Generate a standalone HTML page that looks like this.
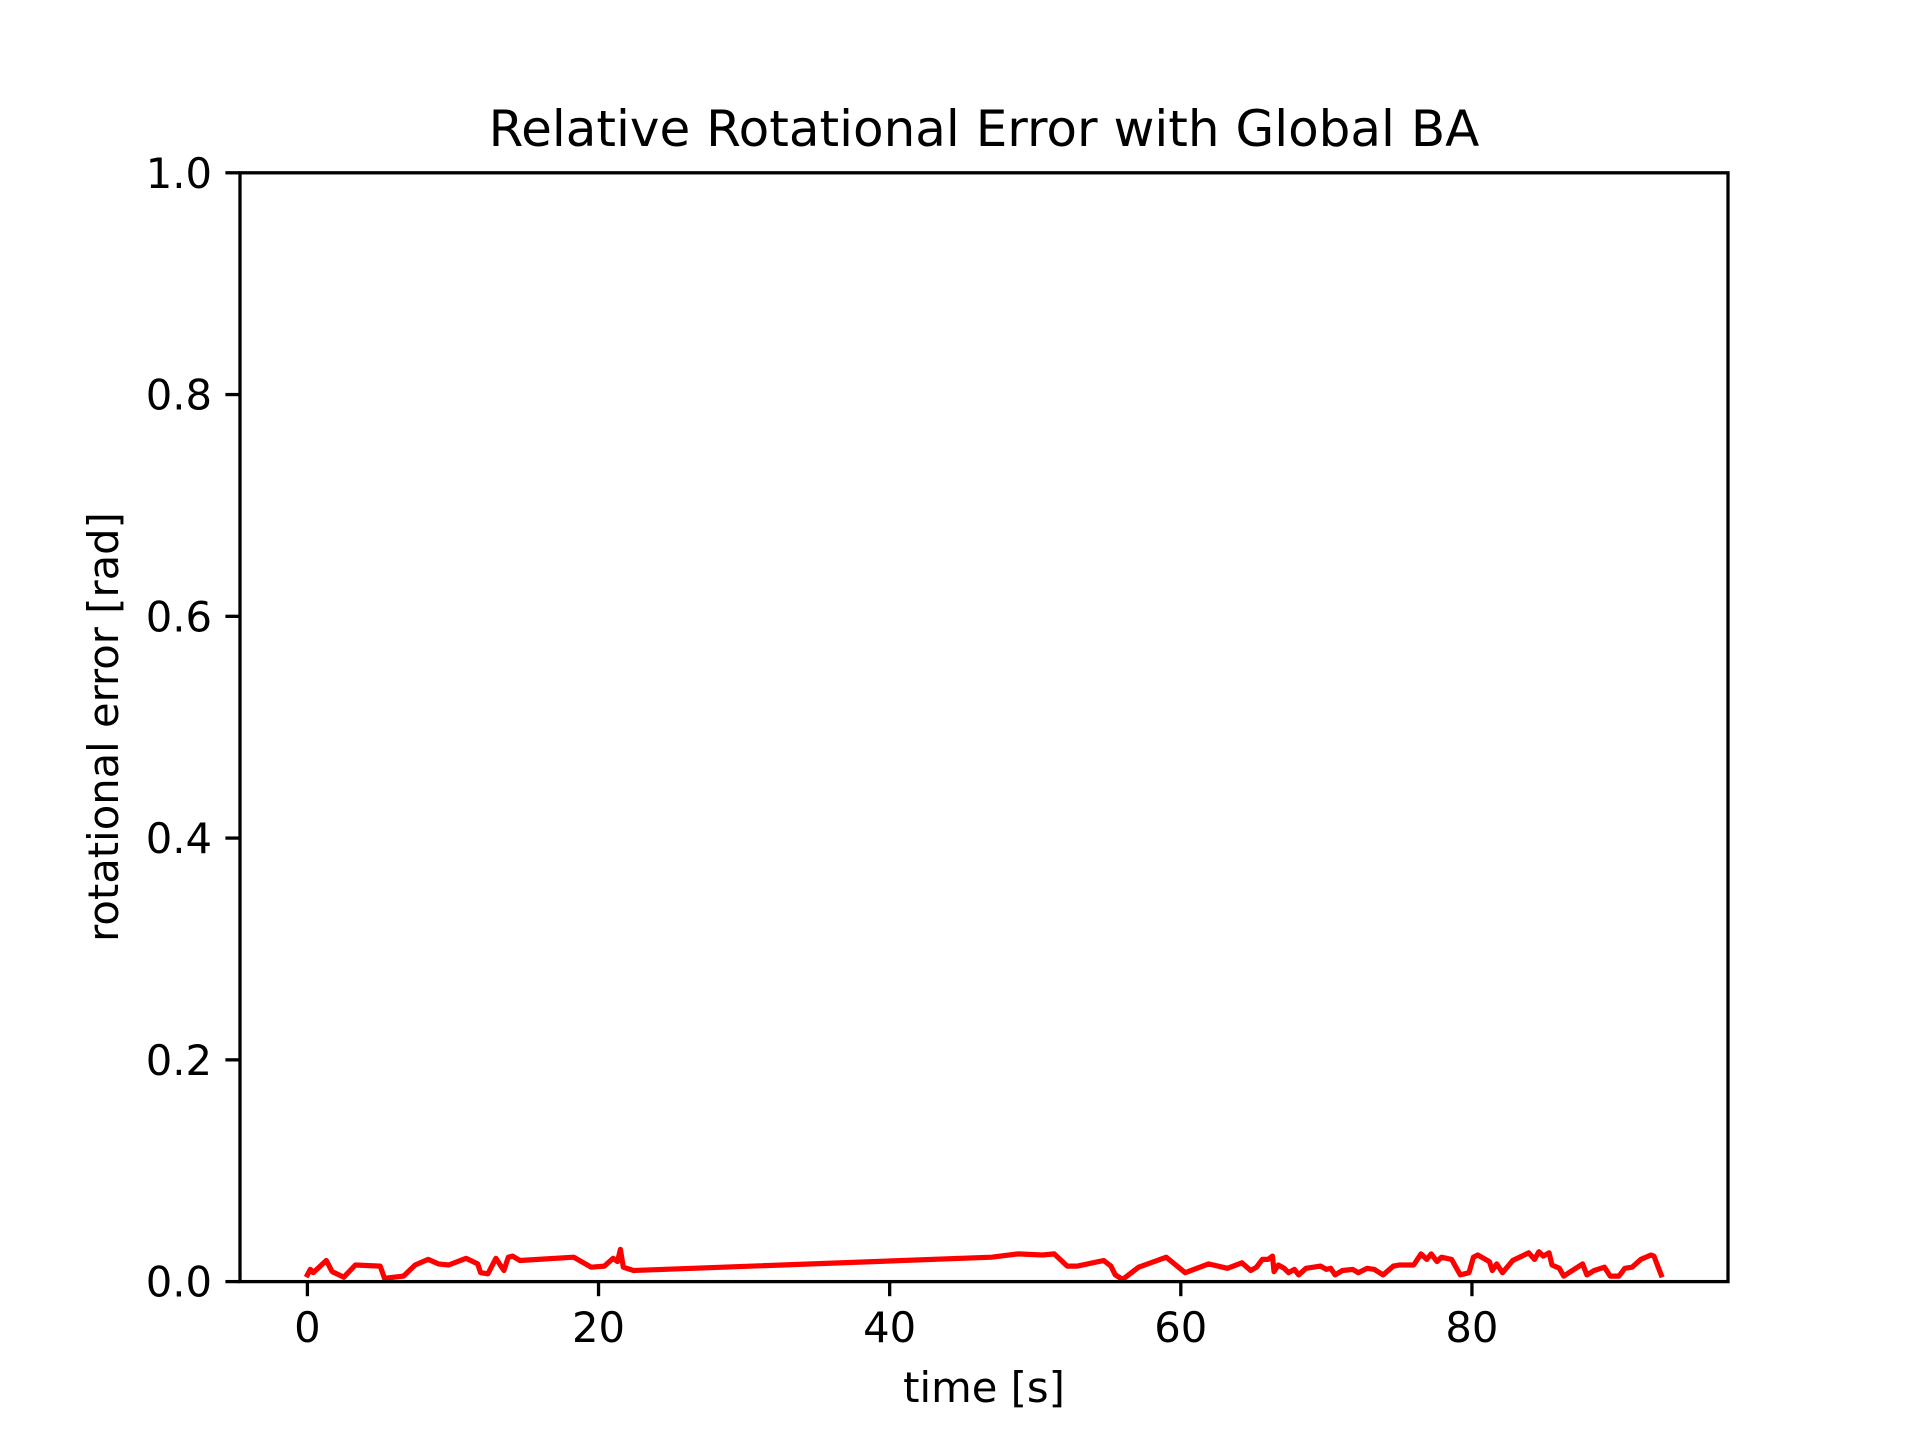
<!DOCTYPE html>
<html><head><meta charset="utf-8"><style>
html,body{margin:0;padding:0;background:#fff;width:1920px;height:1440px;overflow:hidden}
svg{display:block}
text{font-family:"DejaVu Sans","Liberation Sans",sans-serif;fill:#000}
</style></head><body>
<svg id="chart" width="1920" height="1440" viewBox="0 0 1920 1440" xmlns="http://www.w3.org/2000/svg">
<rect width="1920" height="1440" fill="#fff"/>
<text x="984" y="146" font-size="50" text-anchor="middle">Relative Rotational Error with Global BA</text>
<g id="ticks"></g>
<polyline id="series" fill="none" stroke="#ff0000" stroke-width="5.2" stroke-linejoin="round" stroke-linecap="square"/>
<rect x="240" y="172.8" width="1488" height="1108.8" fill="none" stroke="#000" stroke-width="3.3"/>
<text x="984" y="1402" font-size="41.7" text-anchor="middle">time [s]</text>
<text transform="translate(118,727) rotate(-90)" font-size="41.7" text-anchor="middle">rotational error [rad]</text>
</svg>
<script>
const times=[0,0.2,0.4,1.3,1.7,2.5,3.3,5.0,5.3,6.6,7.4,8.3,9,9.7,10.9,11.7,11.9,12.4,12.95,13.5,13.8,14.1,14.6,18.3,19.5,20.4,21,21.3,21.5,21.7,22.4,47.0,48.8,50.5,51.3,52.2,52.9,54.7,55.2,55.5,56.0,57.1,59,60.3,61.9,63.2,64.2,64.8,65.2,65.6,66.0,66.3,66.4,66.7,67.1,67.4,67.8,68.1,68.6,69.6,70,70.3,70.6,71.1,71.8,72.2,72.8,73.3,73.9,74.6,75.0,76.0,76.5,76.9,77.2,77.6,77.9,78.6,79.2,79.8,80.1,80.4,81.2,81.4,81.7,82.1,82.8,83.9,84.3,84.6,84.9,85.3,85.5,86,86.3,87.6,87.9,88.4,89.1,89.5,90.1,90.5,91,91.6,92.3,92.5,93];
const errors=[0.006,0.011,0.008,0.019,0.009,0.004,0.015,0.014,0.003,0.005,0.015,0.02,0.016,0.015,0.021,0.016,0.008,0.007,0.021,0.01,0.022,0.023,0.019,0.022,0.013,0.014,0.021,0.018,0.029,0.013,0.01,0.022,0.025,0.024,0.025,0.014,0.014,0.019,0.014,0.006,0.002,0.013,0.022,0.008,0.016,0.012,0.017,0.01,0.013,0.02,0.02,0.023,0.009,0.015,0.012,0.008,0.011,0.006,0.012,0.014,0.011,0.012,0.006,0.01,0.011,0.008,0.012,0.011,0.006,0.014,0.015,0.015,0.025,0.02,0.025,0.018,0.022,0.02,0.006,0.008,0.022,0.024,0.018,0.01,0.016,0.008,0.019,0.026,0.02,0.027,0.023,0.026,0.015,0.012,0.005,0.016,0.006,0.01,0.013,0.005,0.005,0.012,0.013,0.02,0.024,0.023,0.006];
const xTicks=[0,20,40,60,80];
const yTicks=[0,0.2,0.4,0.6,0.8,1.0];
const yTickLabels=["0.0","0.2","0.4","0.6","0.8","1.0"];
const X0=240,X1=1728,Y0=1281.6,Y1=172.8,xmin=-4.63,xmax=97.59,ymin=0,ymax=1;
function sx(v){return X0+(v-xmin)/(xmax-xmin)*(X1-X0);}
function sy(v){return Y0-(v-ymin)/(ymax-ymin)*(Y0-Y1);}
const NS="http://www.w3.org/2000/svg";
const g=document.getElementById('ticks');
xTicks.forEach(function(t){
  const l=document.createElementNS(NS,'line');
  
  
  l.setAttribute('x1',sx(t));l.setAttribute('x2',sx(t));l.setAttribute('y1',Y0);l.setAttribute('y2',Y0+14.6);
  l.setAttribute('stroke','#000');l.setAttribute('stroke-width','3.3');g.appendChild(l);
  const tx=document.createElementNS(NS,'text');
  
  
  tx.setAttribute('x',sx(t));tx.setAttribute('y',1342);tx.setAttribute('font-size','41.7');tx.setAttribute('text-anchor','middle');
  tx.textContent=String(t);g.appendChild(tx);
});
yTicks.forEach(function(t,i){
  const l=document.createElementNS(NS,'line');
  
  
  l.setAttribute('x1',X0-14.6);l.setAttribute('x2',X0);l.setAttribute('y1',sy(t));l.setAttribute('y2',sy(t));
  l.setAttribute('stroke','#000');l.setAttribute('stroke-width','3.3');g.appendChild(l);
  const tx=document.createElementNS(NS,'text');
  
  
  tx.setAttribute('x',212);tx.setAttribute('y',sy(t)+15);tx.setAttribute('font-size','41.7');tx.setAttribute('text-anchor','end');
  tx.textContent=yTickLabels[i];g.appendChild(tx);
});
document.getElementById('series').setAttribute('points',times.map(function(t,i){return sx(t).toFixed(1)+','+sy(errors[i]).toFixed(1);}).join(' '));
</script>
</body></html>
